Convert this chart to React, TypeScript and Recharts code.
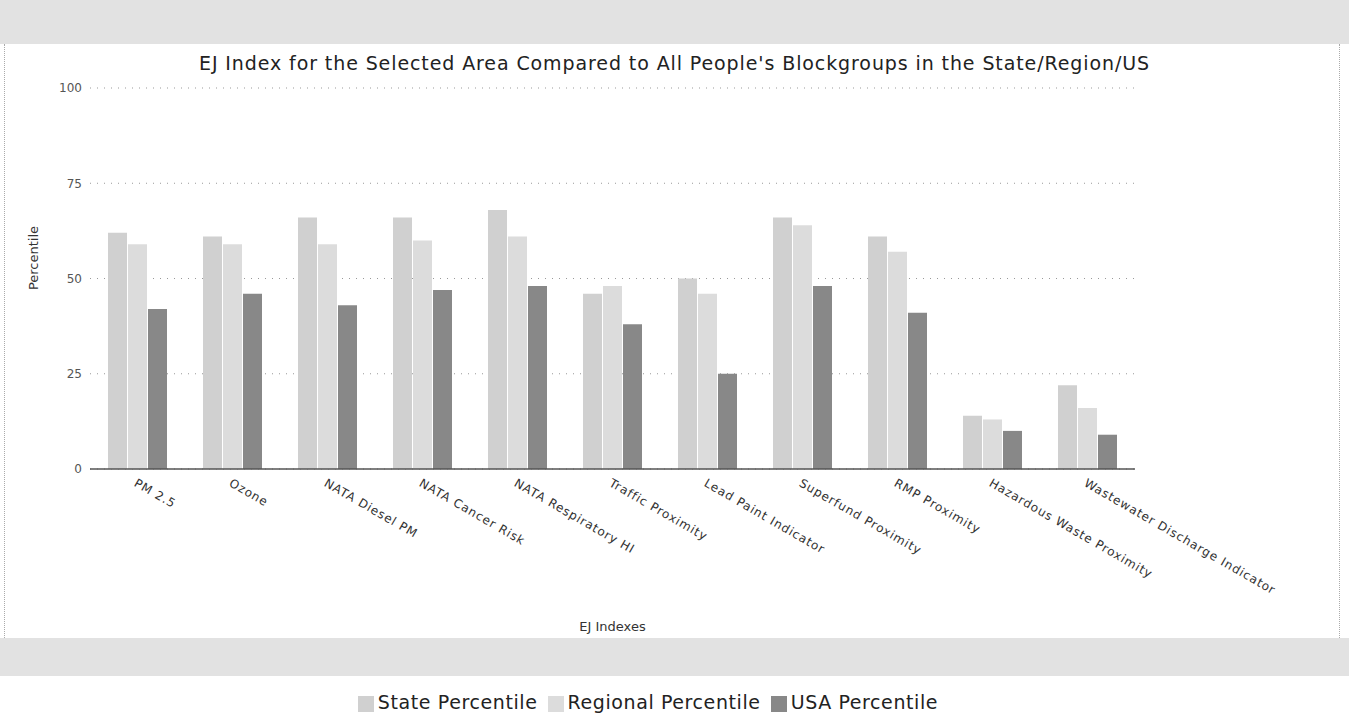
import React from "react";
import {
  BarChart,
  Bar,
  XAxis,
  YAxis,
  CartesianGrid,
  Legend,
} from "recharts";

const categories = [
  "PM 2.5",
  "Ozone",
  "NATA Diesel PM",
  "NATA Cancer Risk",
  "NATA Respiratory HI",
  "Traffic Proximity",
  "Lead Paint Indicator",
  "Superfund Proximity",
  "RMP Proximity",
  "Hazardous Waste Proximity",
  "Wastewater Discharge Indicator",
];
const statePct = [62, 61, 66, 66, 68, 46, 50, 66, 61, 14, 22];
const regionalPct = [59, 59, 59, 60, 61, 48, 46, 64, 57, 13, 16];
const usaPct = [42, 46, 43, 47, 48, 38, 25, 48, 41, 10, 9];
const yTicks = [0, 25, 50, 75, 100];
const seriesOrder = ["state", "regional", "usa"];

const data = categories.map((name, i) => ({
  name,
  state: statePct[i],
  regional: regionalPct[i],
  usa: usaPct[i],
}));

const FONT = "'DejaVu Sans', Verdana, sans-serif";

function SlantTick(props: any) {
  const { x, y, payload } = props;
  return (
    <g transform={`translate(${x},${y + 1}) rotate(30)`}>
      <text
        x={0}
        y={0}
        dy="0.71em"
        textAnchor="start"
        fontSize={12}
        letterSpacing={0.9}
        fill="#333"
        fontFamily={FONT}
      >
        {payload.value}
      </text>
    </g>
  );
}

export default function App() {
  return (
    <div style={{ position: "absolute", left: 0, top: 0, width: 1349, height: 721, background: "#fff", fontFamily: FONT }}>
      {/* grey header/footer bands and dotted frame */}
      <div style={{ position: "absolute", left: 0, top: 0, width: 1349, height: 44, background: "#e2e2e2" }} />
      <div style={{ position: "absolute", left: 0, top: 638, width: 1349, height: 38, background: "#e2e2e2" }} />
      <div style={{ position: "absolute", left: 4, top: 44, width: 1336, height: 594, borderLeft: "1px dotted #aaa", borderRight: "1px dotted #aaa", boxSizing: "border-box" }} />
      <div style={{ position: "absolute", left: 0, top: 52, width: 1349, textAlign: "center", fontSize: 19, letterSpacing: 0.9, color: "#222" }}>
        EJ Index for the Selected Area Compared to All People's Blockgroups in the State/Region/US
      </div>
      <BarChart
        width={1349}
        height={721}
        data={data}
        margin={{ top: 88, right: 214, left: 30, bottom: 60 }}
        barSize={19}
        barGap={1}
        style={{ position: "absolute", left: 0, top: 0 }}
      >
        <CartesianGrid vertical={false} stroke="#999" strokeDasharray="1 6" />
        <XAxis
          dataKey="name"
          interval={0}
          height={170}
          tick={<SlantTick />}
          tickLine={false}
          axisLine={{ stroke: "#555", strokeWidth: 1.5 }}
          label={{ value: "EJ Indexes", position: "insideBottom", offset: 8, fontSize: 13, fill: "#333", fontFamily: FONT }}
        />
        <YAxis
          width={60}
          domain={[0, 100]}
          ticks={yTicks}
          tickLine={false}
          axisLine={false}
          tick={{ fontSize: 12, fill: "#555", fontFamily: FONT }}
          label={{
            content: ({ viewBox }: any) => (
              <text
                x={viewBox.x + 3}
                y={258}
                transform={`rotate(-90, ${viewBox.x + 3}, 258)`}
                textAnchor="middle"
                dominantBaseline="central"
                fontSize={13}
                fill="#333"
                fontFamily={FONT}
              >
                Percentile
              </text>
            ),
          }}
        />
        <Legend
          verticalAlign="bottom"
          align="center"
          iconType="square"
          iconSize={16}
          itemSorter={(item: any) => seriesOrder.indexOf(item.dataKey)}
          wrapperStyle={{ left: 0, width: 1306, bottom: 8, fontSize: 19, letterSpacing: 0.6, fontFamily: FONT }}
          formatter={(value: string) => <span style={{ color: "#222" }}>{value}</span>}
        />
        <Bar dataKey="state" name="State Percentile" fill="#d0d0d0" isAnimationActive={false} />
        <Bar dataKey="regional" name="Regional Percentile" fill="#dcdcdc" isAnimationActive={false} />
        <Bar dataKey="usa" name="USA Percentile" fill="#888888" isAnimationActive={false} />
      </BarChart>
    </div>
  );
}
